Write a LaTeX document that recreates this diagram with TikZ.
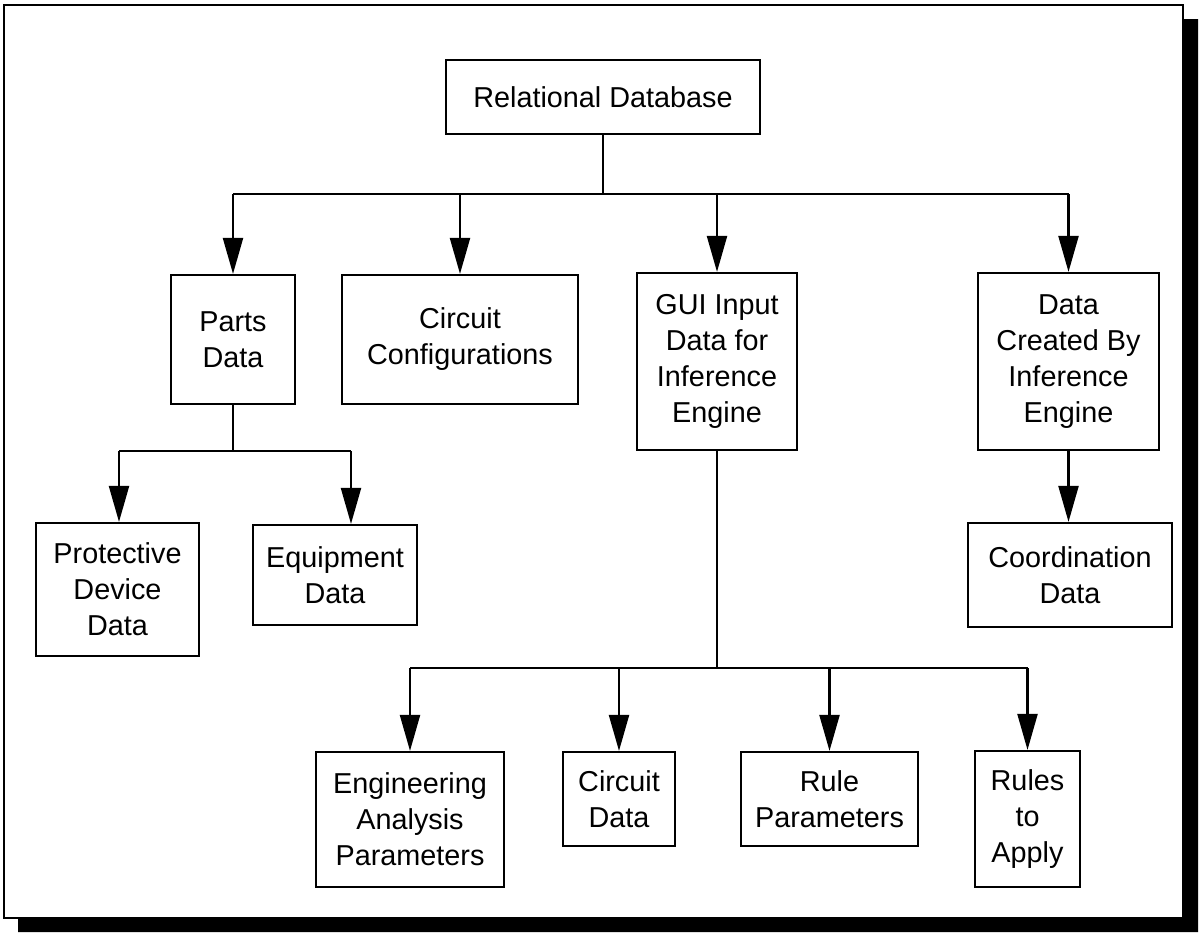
\documentclass[tikz,border=0pt]{standalone}
\usepackage{fontspec}
\setmainfont{Liberation Sans}
\usetikzlibrary{arrows.meta}
\begin{document}
\begin{tikzpicture}[x=0.5pt,y=-0.5pt,
  box/.style={draw, line width=1.1pt, align=center, inner sep=0pt,
    font=\fontsize{14.4}{18}\selectfont},
  link/.style={line width=1.1pt},
  arr/.style={line width=1.1pt, -{Triangle[width=10pt,length=18pt]}}]
% page and framed panel with drop shadow
\fill[white] (0,0) rectangle (1203,932);
\useasboundingbox (0,0) rectangle (1203,932);
\fill[black] (1183,19) -- (1198,19) -- (1198,932) -- (18,932) -- (18,918) -- (1183,918) -- cycle;
\draw[line width=1.1pt] (4,5) rectangle (1183,918);

% boxes
\node[box, minimum width=157pt, minimum height=37pt] (rd) at (603,97) {Relational Database};
\node[box, minimum width=62pt, minimum height=64.5pt] (parts) at (233,339.5) {Parts\\Data};
\node[box, minimum width=118pt, minimum height=64.5pt] (circ) at (460,339.5) {Circuit\\Configurations};
\node[box, minimum width=80pt, minimum height=88.5pt] (gui) at (717,361.5) {GUI Input\\Data for\\Inference\\Engine};
\node[box, minimum width=90.5pt, minimum height=88.5pt] (created) at (1068.5,361.5) {Data\\Created By\\Inference\\Engine};
\node[box, minimum width=81.5pt, minimum height=66.5pt] (prot) at (117.5,589.5) {Protective\\Device\\Data};
\node[box, minimum width=82pt, minimum height=50pt] (equip) at (335,575) {Equipment\\Data};
\node[box, minimum width=102pt, minimum height=52pt] (coord) at (1070,575) {Coordination\\Data};
\node[box, minimum width=94pt, minimum height=67.5pt] (eng) at (410,819.5) {Engineering\\Analysis\\Parameters};
\node[box, minimum width=56pt, minimum height=47pt] (cdata) at (619,799) {Circuit\\Data};
\node[box, minimum width=88.5pt, minimum height=47pt] (rparam) at (829.5,799) {Rule\\Parameters};
\node[box, minimum width=52.5pt, minimum height=68pt] (rules) at (1027.5,819) {Rules\\to\\Apply};

% bus lines
\coordinate (topbus) at (603,194);
\coordinate (partsbus) at (233,451);
\coordinate (partsL) at (119,451);
\coordinate (partsR) at (351,451);
\coordinate (guibus) at (717,668);

% top level
\draw[link] (rd.south) -- (topbus);
\draw[link] (parts.north |- topbus) -- (created.north |- topbus);
\foreach \n in {parts,circ,gui,created}
  \draw[arr] (\n.north |- topbus) -- (\n.north);

% parts data branch
\draw[link] (parts.south) -- (partsbus);
\draw[link] (partsL) -- (partsR);
\draw[arr] (partsL) -- (partsL |- prot.north);
\draw[arr] (partsR) -- (partsR |- equip.north);

% created data branch
\draw[arr] (created.south) -- (coord.north -| created.south);

% gui input branch
\draw[link] (gui.south) -- (guibus);
\draw[link] (eng.north |- guibus) -- (rules.north |- guibus);
\foreach \n in {eng,cdata,rparam,rules}
  \draw[arr] (\n.north |- guibus) -- (\n.north);
\end{tikzpicture}
\end{document}
